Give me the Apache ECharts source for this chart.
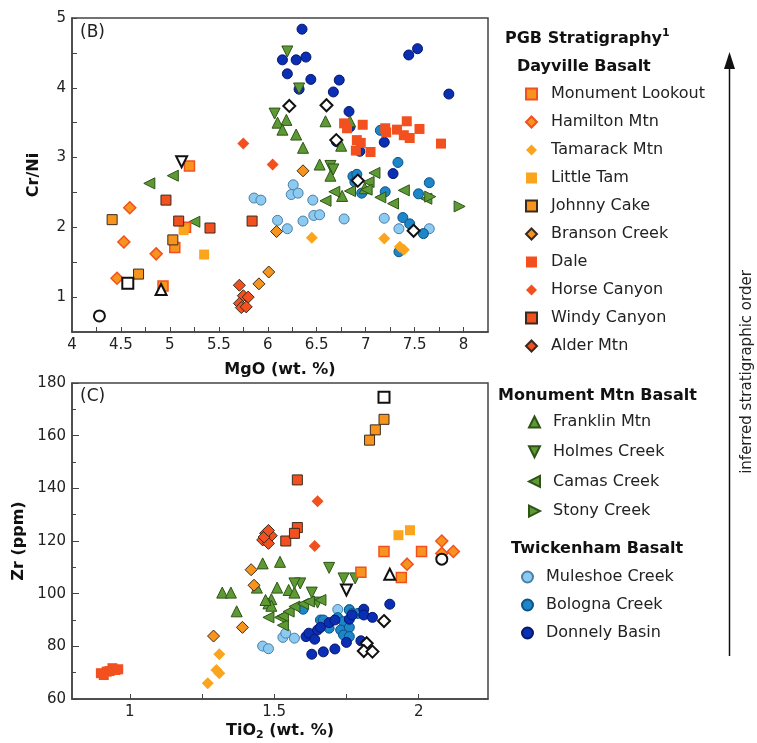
<!DOCTYPE html>
<html>
<head>
<meta charset="utf-8">
<script src="https://cdn.jsdelivr.net/npm/echarts@6/dist/echarts.min.js"></script>
<style>
  html, body { margin: 0; padding: 0; background: #fff; }
  #chart { width: 757px; height: 743px; }
</style>
</head>
<body>
<div id="chart"></div>
<script>
// panel B: MgO (wt.%) vs Cr/Ni
const monumentLookoutB = [[5.20,2.88],[5.16,2.00],[5.05,1.71],[4.93,1.16]];
const hamiltonB = [[4.59,2.28],[4.53,1.79],[4.86,1.62],[4.46,1.27]];
const tamarackB = [[6.45,1.85],[7.19,1.84],[7.35,1.72],[7.39,1.68]];
const littleTamB = [[5.35,1.61],[5.14,1.96]];
const johnnyCakeB = [[4.41,2.11],[5.03,1.82],[4.68,1.33]];
const bransonB = [[6.09,1.94],[6.01,1.36],[5.91,1.19],[6.36,2.81]];
const daleB = [[6.78,3.49],[6.81,3.42],[6.97,3.47],[6.91,3.25],[6.95,3.21],[6.90,3.10],[7.05,3.08],[7.20,3.42],[7.21,3.36],[7.32,3.40],[7.42,3.52],[7.39,3.32],[7.45,3.28],[7.55,3.41],[7.77,3.20]];
const horseCanyonB = [[5.75,3.20],[6.05,2.90]];
const windyCanyonB = [[4.96,2.39],[5.09,2.09],[5.41,1.99],[5.84,2.09]];
const alderB = [[5.71,1.17],[5.75,1.02],[5.80,1.00],[5.71,0.91],[5.73,0.85],[5.78,0.86]];
const franklinB = [[6.19,3.54],[6.10,3.50],[6.15,3.40],[6.29,3.33],[6.36,3.14],[6.59,3.52],[6.84,3.52],[6.75,3.17],[6.53,2.90],[6.64,2.74],[6.76,2.45],[6.99,2.56]];
const holmesB = [[6.20,4.52],[6.07,3.63],[6.64,2.88],[6.67,2.83],[6.32,3.99]];
const camasB = [[4.79,2.63],[5.03,2.74],[5.25,2.08],[7.09,2.78],[7.03,2.65],[7.01,2.54],[6.68,2.51],[6.84,2.52],[6.59,2.38],[7.15,2.43],[7.39,2.53],[7.28,2.34],[7.62,2.41]];
const stonyB = [[7.66,2.44],[7.96,2.30]];
const muleshoeB = [[5.86,2.42],[5.93,2.39],[6.10,2.10],[6.20,1.98],[6.26,2.61],[6.24,2.47],[6.31,2.49],[6.46,2.39],[6.36,2.09],[6.47,2.17],[6.53,2.18],[6.78,2.12],[7.19,2.13],[7.34,1.98],[7.65,1.98]];
const bolognaB = [[7.15,3.39],[7.33,2.93],[7.65,2.64],[6.87,2.73],[6.91,2.76],[6.89,2.65],[6.96,2.49],[7.20,2.51],[7.54,2.48],[7.38,2.14],[7.45,2.05],[7.59,1.91],[7.34,1.65]];
const donnelyB = [[6.35,4.84],[6.15,4.40],[6.29,4.40],[6.39,4.44],[6.20,4.20],[6.44,4.12],[6.73,4.11],[6.32,3.98],[6.67,3.94],[6.83,3.66],[6.84,3.44],[7.44,4.47],[7.53,4.56],[7.85,3.91],[7.19,3.22],[6.94,3.09],[6.70,3.23],[7.28,2.77]];
const openCircleB = [[4.28,0.73]];
const openSquareB = [[4.57,1.20]];
const openTriUpB = [[4.91,1.11]];
const openTriDownB = [[5.12,2.94]];
const openDiamondB = [[6.22,3.74],[6.60,3.75],[6.70,3.25],[6.92,2.67],[7.49,1.95]];

// panel C: TiO2 (wt.%) vs Zr (ppm)
const monumentLookoutC = [[1.88,116.0],[2.01,116.0],[1.80,108.1],[1.94,106.1]];
const hamiltonC = [[2.08,120.0],[2.12,116.0],[1.96,111.2],[2.08,115.3]];
const tamarackC = [[1.27,66.0],[1.30,71.0],[1.31,69.8],[1.31,77.0]];
const littleTamC = [[1.93,122.2],[1.97,124.1]];
const johnnyCakeC = [[1.88,166.2],[1.85,162.2],[1.83,158.3]];
const bransonC = [[1.29,83.9],[1.39,87.2],[1.42,109.1],[1.43,103.2]];
const daleC = [[0.90,69.8],[0.92,70.4],[0.94,71.7],[0.95,71.0],[0.96,71.3],[0.91,69.1],[0.93,70.6]];
const horseCanyonC = [[1.65,135.1],[1.64,118.1]];
const windyCanyonC = [[1.54,120.0],[1.58,143.2],[1.58,125.1],[1.57,122.9]];
const alderC = [[1.47,122.9],[1.49,122.0],[1.46,120.4],[1.48,119.1],[1.465,121.5],[1.48,124.0]];
const franklinC = [[1.32,100.4],[1.35,100.4],[1.37,93.3],[1.46,111.5],[1.52,112.1],[1.44,102.3],[1.51,102.3],[1.55,101.4],[1.57,100.4],[1.49,97.9],[1.48,96.3],[1.49,95.4],[1.47,97.6]];
const holmesC = [[1.69,109.8],[1.74,105.8],[1.78,105.8],[1.59,103.9],[1.63,100.4],[1.65,96.6],[1.57,103.9]];
const camasC = [[1.48,91.0],[1.52,91.0],[1.53,88.0],[1.53,91.5],[1.55,93.2],[1.57,95.1],[1.60,96.1],[1.62,97.0],[1.66,97.6]];
const stonyC = [];
const muleshoeC = [[1.46,80.1],[1.48,79.1],[1.53,83.4],[1.54,85.0],[1.57,83.1],[1.72,94.0],[1.76,94.0]];
const bolognaC = [[1.60,94.1],[1.66,90.0],[1.69,86.9],[1.72,90.9],[1.74,89.4],[1.76,93.8],[1.77,92.5],[1.73,86.2],[1.76,87.2],[1.74,84.3],[1.76,83.7],[1.79,92.5],[1.67,90.0]];
const donnelyC = [[1.61,83.7],[1.62,85.0],[1.64,82.7],[1.65,86.2],[1.66,87.2],[1.69,89.0],[1.71,90.0],[1.76,90.3],[1.77,91.9],[1.81,94.1],[1.81,91.9],[1.84,91.0],[1.90,96.0],[1.75,81.5],[1.80,82.1],[1.63,77.0],[1.67,77.9],[1.71,79.0]];
const openCircleC = [[2.08,113.1]];
const openSquareC = [[1.88,174.6]];
const openTriUpC = [[1.90,107.4]];
const openTriDownC = [[1.75,101.4]];
const openDiamondC = [[1.88,89.6],[1.82,81.2],[1.81,78.2],[1.84,78.0]];

const dayvilleNames = ['Monument Lookout','Hamilton Mtn','Tamarack Mtn','Little Tam','Johnny Cake','Branson Creek','Dale','Horse Canyon','Windy Canyon','Alder Mtn'];
const monumentNames = ['Franklin Mtn','Holmes Creek','Camas Creek','Stony Creek'];
const twickenhamNames = ['Muleshoe Creek','Bologna Creek','Donnely Basin'];

const MgOLabels = [4, 4.5, 5, 5.5, 6, 6.5, 7, 7.5, 8];
const MgOTicks = [4.25,4.5,4.75,5,5.25,5.5,5.75,6,6.25,6.5,6.75,7,7.25,7.5,7.75,8];
const CrNiLabels = [1, 2, 3, 4, 5];
const CrNiTicks = [1,1.5,2,2.5,3,3.5,4,4.5,5];
const TiO2Labels = [1, 1.5, 2];
const TiO2Ticks = [1, 1.25, 1.5, 1.75, 2];

const ORANGE = '#F7941D', LIGHT = '#FBA51E', RED = '#F2511F', DARK = '#3b2a1c';
const GREEN = '#5E9A34', GREEN_B = '#2E5418';
const FONT = 'DejaVu Sans';
// triangle shapes as paths so legend icons point the same way as the marks
const TRI_UP = 'path://M5,0L10,10L0,10Z';
const TRI_DOWN = 'path://M0,0L10,0L5,10Z';
const TRI_LEFT = 'path://M10,0L10,10L0,5Z';
const TRI_RIGHT = 'path://M0,0L0,10L10,5Z';

function sc(name, data, idx, symbol, size, color, border, bw) {
  return {
    name: name, type: 'scatter', xAxisIndex: idx, yAxisIndex: idx,
    data: data, symbol: symbol, symbolSize: size,
    itemStyle: { color: color, borderColor: border || color, borderWidth: bw || 0, opacity: 1 },
    emphasis: { disabled: true }
  };
}
function pair(name, b, c, symbol, size, color, border, bw) {
  return [sc(name, b, 0, symbol, size, color, border, bw), sc(name, c, 1, symbol, size, color, border, bw)];
}
function hollow(b, c, symbol, size) {
  return [sc('_open_' + symbol, b, 0, symbol, size, '#fff', '#111', 2),
          sc('_open_' + symbol, c, 1, symbol, size, '#fff', '#111', 2)];
}

const series = [].concat(
  pair('Muleshoe Creek', muleshoeB, muleshoeC, 'circle', 10, '#8DCAF1', '#4A7FA6', 1),
  pair('Bologna Creek', bolognaB, bolognaC, 'circle', 10, '#1C86C8', '#0E5285', 1),
  pair('Donnely Basin', donnelyB, donnelyC, 'circle', 10, '#0A2EB4', '#06186C', 1),
  pair('Franklin Mtn', franklinB, franklinC, TRI_UP, 11, GREEN, GREEN_B, 1),
  pair('Holmes Creek', holmesB, holmesC, TRI_DOWN, 11, GREEN, GREEN_B, 1),
  pair('Camas Creek', camasB, camasC, TRI_LEFT, 11, GREEN, GREEN_B, 1),
  pair('Stony Creek', stonyB, stonyC, TRI_RIGHT, 11, GREEN, GREEN_B, 1),
  pair('Monument Lookout', monumentLookoutB, monumentLookoutC, 'rect', 10, ORANGE, RED, 1.5),
  pair('Hamilton Mtn', hamiltonB, hamiltonC, 'diamond', 12, ORANGE, RED, 1.5),
  pair('Tamarack Mtn', tamarackB, tamarackC, 'diamond', 12, LIGHT),
  pair('Little Tam', littleTamB, littleTamC, 'rect', 10, LIGHT),
  pair('Johnny Cake', johnnyCakeB, johnnyCakeC, 'rect', 10, ORANGE, DARK, 1),
  pair('Branson Creek', bransonB, bransonC, 'diamond', 12, ORANGE, DARK, 1),
  pair('Dale', daleB, daleC, 'rect', 10, RED),
  pair('Horse Canyon', horseCanyonB, horseCanyonC, 'diamond', 12, RED),
  pair('Windy Canyon', windyCanyonB, windyCanyonC, 'rect', 10, RED, DARK, 1),
  pair('Alder Mtn', alderB, alderC, 'diamond', 12, RED, DARK, 1),
  hollow(openCircleB, openCircleC, 'circle', 11),
  hollow(openSquareB, openSquareC, 'rect', 11),
  hollow(openTriUpB, openTriUpC, TRI_UP, 11),
  hollow(openTriDownB, openTriDownC, TRI_DOWN, 11),
  hollow(openDiamondB, openDiamondC, 'diamond', 12)
);

const axisLine = { show: true, onZero: false, lineStyle: { color: '#444', width: 1.5 } };
const labelStyle = { color: '#222', fontSize: 15, fontFamily: FONT };
const nameStyle = { color: '#111', fontSize: 16, fontWeight: 'bold', fontFamily: FONT };

function legend(names, left, top, gap, pad) {
  return {
    data: names, orient: 'vertical', left: left, top: top, itemGap: gap,
    itemWidth: 11, itemHeight: 11, selectedMode: false, padding: 0,
    textStyle: { fontSize: 16, fontFamily: FONT, color: '#222', lineHeight: 18, padding: [0, 0, 0, pad] }
  };
}

const option = {
  animation: false,
  backgroundColor: '#fff',
  grid: [
    { left: 72, top: 18, width: 416, height: 314, show: true, borderColor: '#444', borderWidth: 1.5 },
    { left: 72, top: 383, width: 416, height: 316, show: true, borderColor: '#444', borderWidth: 1.5 }
  ],
  xAxis: [
    { type: 'value', gridIndex: 0, min: 4, max: 8.25, axisLine: axisLine, splitLine: { show: false },
      axisTick: { inside: true, length: 5, customValues: MgOTicks, lineStyle: { color: '#444' } },
      axisLabel: Object.assign({ customValues: MgOLabels, margin: 6 }, labelStyle),
      name: 'MgO (wt. %)', nameLocation: 'middle', nameGap: 30, nameTextStyle: nameStyle },
    { type: 'value', gridIndex: 1, min: 0.8, max: 2.24, axisLine: axisLine, splitLine: { show: false },
      axisTick: { inside: true, length: 5, customValues: TiO2Ticks, lineStyle: { color: '#444' } },
      axisLabel: Object.assign({ customValues: TiO2Labels, margin: 6 }, labelStyle),
      name: '{a|TiO}{s|2}{a| (wt. %)}', nameLocation: 'middle', nameGap: 22,
      nameTextStyle: Object.assign({ rich: {
        a: { fontSize: 16, fontWeight: 'bold', fontFamily: FONT, color: '#111', lineHeight: 20 },
        s: { fontSize: 11, fontWeight: 'bold', fontFamily: FONT, color: '#111', verticalAlign: 'bottom', lineHeight: 20 }
      } }, nameStyle) }
  ],
  yAxis: [
    { type: 'value', gridIndex: 0, min: 0.5, max: 5, axisLine: axisLine, splitLine: { show: false },
      axisTick: { inside: true, length: 5, customValues: CrNiTicks, lineStyle: { color: '#444' } },
      axisLabel: Object.assign({ customValues: CrNiLabels, margin: 6 }, labelStyle),
      name: 'Cr/Ni', nameLocation: 'middle', nameGap: 30, nameRotate: 90, nameTextStyle: nameStyle },
    { type: 'value', gridIndex: 1, min: 60, max: 180, interval: 20, axisLine: axisLine, splitLine: { show: false },
      axisTick: { inside: true, length: 7, lineStyle: { color: '#444' } },
      minorTick: { show: true, splitNumber: 2, length: 4, lineStyle: { color: '#444' } },
      minorSplitLine: { show: false },
      axisLabel: Object.assign({ margin: 6 }, labelStyle),
      name: 'Zr (ppm)', nameLocation: 'middle', nameGap: 38, nameRotate: 90, nameTextStyle: nameStyle }
  ],
  legend: [
    legend(dayvilleNames, 525, 85, 10, 9),
    legend(monumentNames, 528, 413, 11.7, 8),
    legend(twickenhamNames, 521, 568, 10, 8)
  ],
  graphic: [
    { type: 'text', x: 80, y: 33, style: { text: '(B)', font: '17px ' + FONT, fill: '#222', verticalAlign: 'middle' } },
    { type: 'text', x: 80, y: 397, style: { text: '(C)', font: '17px ' + FONT, fill: '#222', verticalAlign: 'middle' } },
    { type: 'text', x: 505, y: 39, style: {
        text: '{b|PGB Stratigraphy}{s|1}', verticalAlign: 'middle',
        rich: {
          b: { font: 'bold 16px ' + FONT, fill: '#111', lineHeight: 22 },
          s: { font: 'bold 11px ' + FONT, fill: '#111', verticalAlign: 'top', lineHeight: 22 }
        } } },
    { type: 'text', x: 517, y: 67, style: { text: 'Dayville Basalt', font: 'bold 16px ' + FONT, fill: '#111', verticalAlign: 'middle' } },
    { type: 'text', x: 498, y: 396, style: { text: 'Monument Mtn Basalt', font: 'bold 16px ' + FONT, fill: '#111', verticalAlign: 'middle' } },
    { type: 'text', x: 511, y: 549, style: { text: 'Twickenham Basalt', font: 'bold 16px ' + FONT, fill: '#111', verticalAlign: 'middle' } },
    { type: 'line', shape: { x1: 729.5, y1: 656, x2: 729.5, y2: 64 }, style: { stroke: '#111', lineWidth: 1.5 } },
    { type: 'polygon', shape: { points: [[729.5, 52], [724, 69], [735, 69]] }, style: { fill: '#111' } },
    { type: 'text', x: 747, y: 372, rotation: Math.PI / 2,
      style: { text: 'inferred stratigraphic order', font: '15px ' + FONT, fill: '#222', align: 'center', verticalAlign: 'middle' } }
  ],
  series: series
};

const myChart = echarts.init(document.getElementById('chart'));
myChart.setOption(option);
</script>
</body>
</html>
